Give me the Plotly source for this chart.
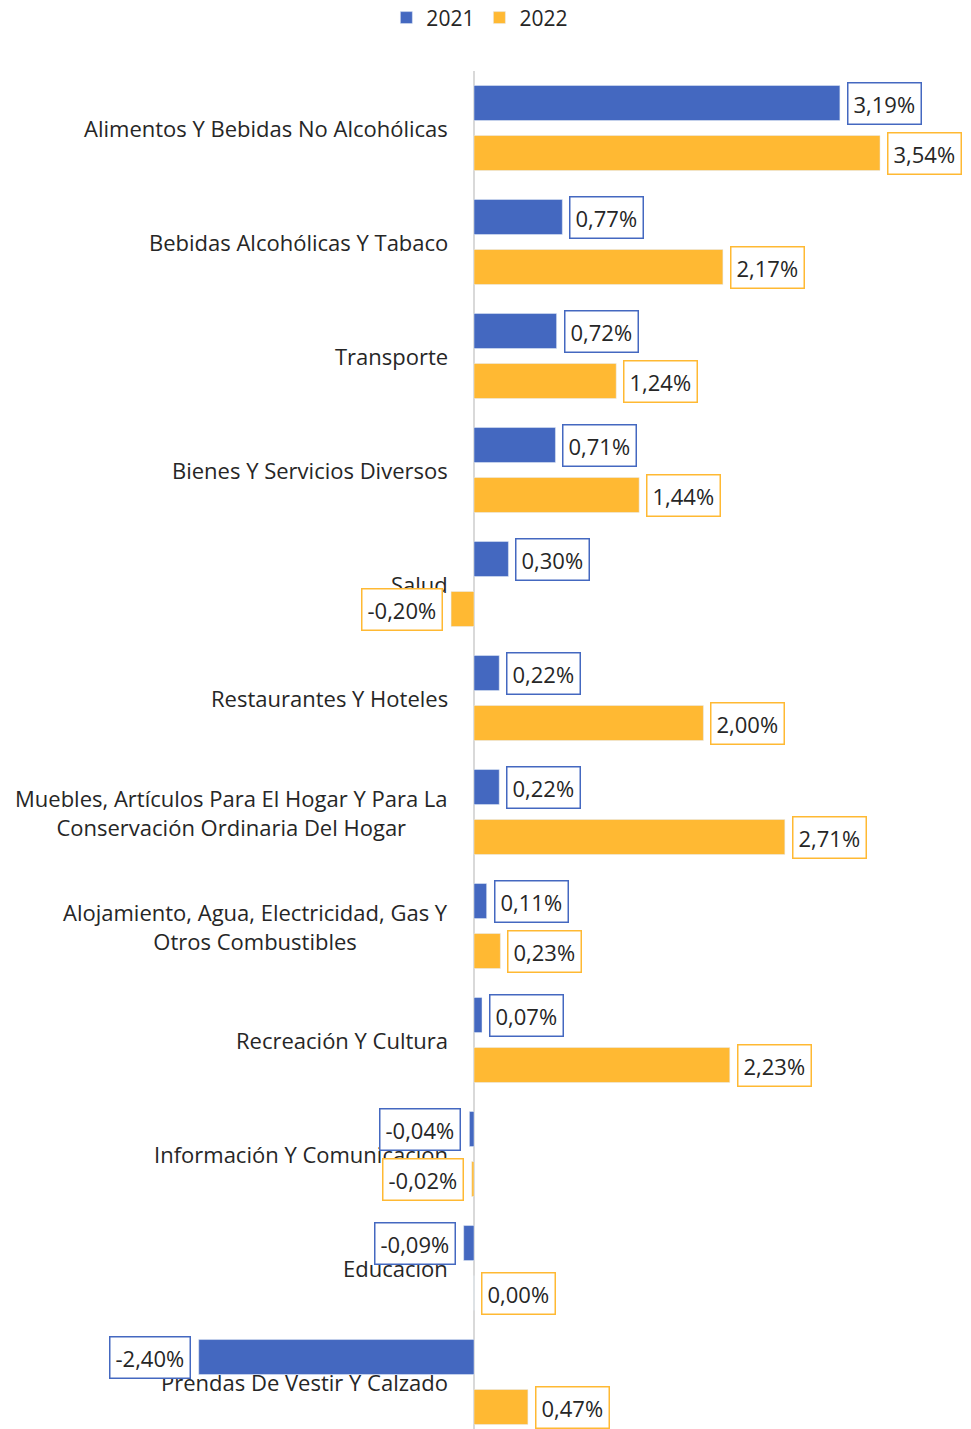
import plotly.graph_objects as go

categorias = [
    "Alimentos Y Bebidas No Alcohólicas",
    "Bebidas Alcohólicas Y Tabaco",
    "Transporte",
    "Bienes Y Servicios Diversos",
    "Salud",
    "Restaurantes Y Hoteles",
    "Muebles, Artículos Para El Hogar Y Para La<br>Conservación Ordinaria Del Hogar",
    "Alojamiento, Agua, Electricidad, Gas Y<br>Otros Combustibles",
    "Recreación Y Cultura",
    "Información Y Comunicación",
    "Educación",
    "Prendas De Vestir Y Calzado",
]
v2021 = [3.19, 0.77, 0.72, 0.71, 0.30, 0.22, 0.22, 0.11, 0.07, -0.04, -0.09, -2.40]
v2022 = [3.54, 2.17, 1.24, 1.44, -0.20, 2.00, 2.71, 0.23, 2.23, -0.02, 0.00, 0.47]

azul = "#4468C0"
naranja = "#FFB933"
fuente = "Segoe UI, Open Sans, sans-serif"
texto = "#262626"

def etiqueta(v):
    return f"{v:.2f}".replace(".", ",") + "%"

fig = go.Figure()
fig.add_trace(go.Bar(y=categorias, x=v2021, name="2021", orientation="h", marker_color=azul))
fig.add_trace(go.Bar(y=categorias, x=v2022, name="2022", orientation="h", marker_color=naranja))

anotaciones = []
# nombres de categoría junto al eje cero
for cat in categorias:
    anotaciones.append(dict(
        x=0, y=cat, xref="x", yref="y", text=cat, showarrow=False,
        xanchor="right", yanchor="middle", align="center", xshift=-24,
        font=dict(family=fuente, size=22, color=texto),
    ))

for serie, color, desplaz in [(v2021, azul, 25), (v2022, naranja, -25)]:
    for cat, v in zip(categorias, serie):
        anotaciones.append(dict(
            x=v, y=cat, xref="x", yref="y", text=etiqueta(v), showarrow=False,
            xanchor="right" if v < 0 else "left", yanchor="middle",
            xshift=-8 if v < 0 else 7, yshift=desplaz,
            bordercolor=color, borderwidth=1.5, borderpad=5, bgcolor="white",
            font=dict(family=fuente, size=22, color=texto),
        ))

escala = 114.7
ancho, alto = 963, 1421
cero = 466
fig.update_layout(
    width=ancho, height=alto,
    margin=dict(l=0, r=0, t=63, b=0, autoexpand=False),
    plot_bgcolor="white", paper_bgcolor="white",
    barmode="group", bargap=0.123, bargroupgap=0.3,
    font=dict(family=fuente, size=21, color=texto),
    legend=dict(orientation="h", x=0.49, xanchor="center", yref="container", y=0.993,
                yanchor="middle", font=dict(size=21), itemwidth=30, traceorder="normal"),
    annotations=anotaciones,
    xaxis=dict(range=[-cero / escala, (ancho - cero) / escala], showgrid=False, showticklabels=False,
               zeroline=True, zerolinecolor="#D9D9D9", zerolinewidth=2, fixedrange=True),
    yaxis=dict(categoryorder="array", categoryarray=categorias, range=[11.412, -0.5],
               showticklabels=False, showgrid=False, zeroline=False),
)

fig.write_html("out.html")
